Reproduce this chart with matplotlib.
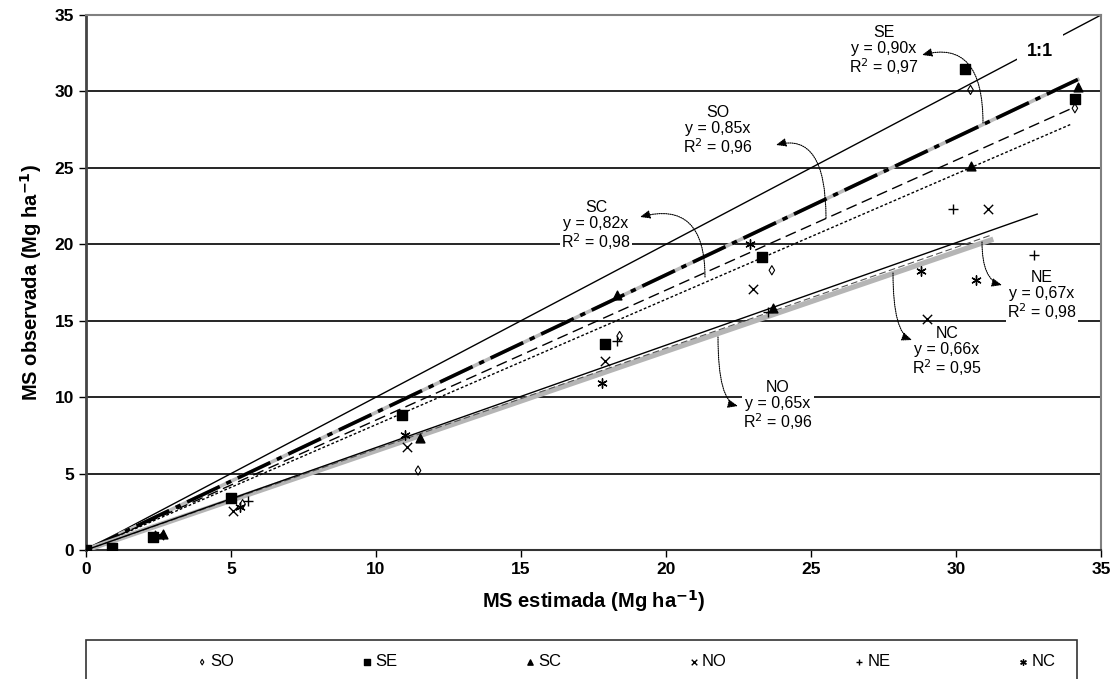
import numpy as np
import matplotlib
matplotlib.use("Agg")
import matplotlib.pyplot as plt
from matplotlib.patches import Rectangle

plt.rcParams['font.family'] = ['Liberation Sans', 'DejaVu Sans']

# ---- data ----
SO_x = [0, 5.4, 11.45, 18.4, 23.65, 30.5, 34.1]
SO_y = [0, 3.0, 5.2, 14.0, 18.3, 30.1, 28.9]
SE_x = [0, 0.9, 2.3, 5.0, 10.9, 17.9, 23.3, 30.3, 34.1]
SE_y = [0, 0.15, 0.85, 3.4, 8.8, 13.5, 19.2, 31.5, 29.5]
SC_x = [0, 0.9, 2.65, 11.5, 18.3, 23.7, 30.5, 34.2]
SC_y = [0, 0.1, 1.05, 7.3, 16.7, 15.8, 25.1, 30.3]
NO_x = [0, 2.5, 5.07, 11.07, 17.9, 23.0, 29.0, 31.1]
NO_y = [0, 1.0, 2.55, 6.75, 12.35, 17.1, 15.1, 22.3]
NE_x = [0, 5.6, 18.3, 23.5, 29.9, 32.7]
NE_y = [0, 3.2, 13.7, 15.6, 22.3, 19.3]
NC_x = [0, 5.3, 11.0, 17.8, 22.9, 28.8, 30.7]
NC_y = [0, 2.8, 7.5, 10.9, 20.0, 18.25, 17.65]

slopes = {'SO': 0.85, 'SE': 0.90, 'SC': 0.82, 'NO': 0.65, 'NE': 0.67, 'NC': 0.66}
r2 = {'SO': '0,96', 'SE': '0,97', 'SC': '0,98', 'NO': '0,96', 'NE': '0,98', 'NC': '0,95'}
line_xmax = {'SO': 34.0, 'SE': 34.2, 'SC': 34.0, 'NO': 31.2, 'NE': 32.8, 'NC': 31.2}

W, H = 1120, 679
fig = plt.figure(figsize=(W / 100, H / 100), dpi=100)
L, R, T, B = 86, 1101, 15, 550
ax = fig.add_axes([L / W, 1 - B / H, (R - L) / W, (B - T) / H])
ax.set_xlim(0, 35)
ax.set_ylim(0, 35)

# grid lines
for yv in range(5, 35, 5):
    ax.axhline(yv, color='black', lw=1.2, zorder=1)

# 1:1 line
xx = np.array([0, 35])
ax.plot(xx, xx, color='black', lw=1.0, zorder=2)

def seg(name):
    return np.array([0, line_xmax[name]])

# trend lines
x = seg('SE'); ax.plot(x, slopes['SE'] * x, color='#bbbbbb', lw=2.6, zorder=3)
ax.plot(x, slopes['SE'] * x, color='black', lw=2.6, dashes=(10, 2, 1.5, 2), zorder=3)
x = seg('SO'); ax.plot(x, slopes['SO'] * x, color='black', lw=1.0, dashes=(8, 4), zorder=3)
x = seg('SC'); ax.plot(x, slopes['SC'] * x, color='black', lw=1.0, dashes=(2, 1.5), zorder=3)
x = seg('NO'); ax.plot(x, slopes['NO'] * x, color='#b5b5b5', lw=3.8, zorder=3)
x = seg('NC'); ax.plot(x, slopes['NC'] * x, color='#555555', lw=0.8, dashes=(6, 3), zorder=3)
x = seg('NE'); ax.plot(x, slopes['NE'] * x, color='black', lw=1.0, zorder=3)

# points
h_so = ax.scatter(SO_x, SO_y, marker='d', s=22, facecolors='none', edgecolors='black', linewidths=0.8, zorder=5, label='SO')
h_se = ax.scatter(SE_x, SE_y, marker='s', s=42, color='black', zorder=5, label='SE')
h_sc = ax.scatter(SC_x, SC_y, marker='^', s=40, color='black', zorder=5, label='SC')
h_no = ax.scatter(NO_x, NO_y, marker='x', s=45, color='black', linewidths=1.0, zorder=5, label='NO')
h_ne = ax.scatter(NE_x, NE_y, marker='+', s=45, color='black', linewidths=1.0, zorder=5, label='NE')
h_nc = ax.scatter(NC_x, NC_y, marker=(6, 2, 0), s=45, color='black', linewidths=1.0, zorder=5, label='NC')

# annotations
def px2d(px, py):
    return ((px - L) / (R - L) * 35, (B - py) / (B - T) * 35)

labels = {
    'SE': ((884, 51), (983, 123), (922, 55), 15),
    'SO': ((718, 131), (826, 218), (776, 145), 15),
    'SC': ((596, 226), (705, 277), (640, 217), 15),
    'NO': ((778, 406), (718, 337), (738, 406), -13),
    'NC': ((947, 352), (893, 273), (912, 340), -20),
    'NE': ((1042, 296), (982, 242), (1002, 285), -14),
}
for name, (tpos, tail, head, angB) in labels.items():
    tx, ty = px2d(*tpos)
    ax.text(tx, ty, f"{name}\ny = {slopes[name]:.2f}x\nR$^2$ = {r2[name]}".replace('.', ','),
            ha='center', va='center', fontsize=11.5, linespacing=1.05, zorder=6,
            bbox=dict(facecolor='white', edgecolor='none', pad=0.5))
    ax.annotate('', xy=px2d(*head), xytext=px2d(*tail),
                arrowprops=dict(arrowstyle='-|>,head_length=0.6,head_width=0.25', color='black',
                                lw=0.8, ls=(0, (1, 1)),
                                connectionstyle=f'angle3,angleA=90,angleB={angB}',
                                shrinkA=0, shrinkB=0), zorder=6)

tx, ty = px2d(1040, 52)
ax.text(tx, ty, '1:1', ha='center', va='center', fontsize=13, fontweight='bold', zorder=6,
        bbox=dict(facecolor='white', edgecolor='none', pad=7))

# ticks and spines
ax.set_xticks(range(0, 36, 5))
ax.set_yticks(range(0, 36, 5))
ax.tick_params(direction='out', length=5, width=1, labelsize=12.5)
for lab in ax.get_xticklabels() + ax.get_yticklabels():
    lab.set_fontweight('bold')
ax.spines['left'].set_color('#444444'); ax.spines['left'].set_linewidth(2)
ax.spines['bottom'].set_color('#333333'); ax.spines['bottom'].set_linewidth(1.5)
ax.spines['top'].set_color('#808080'); ax.spines['top'].set_linewidth(1.5)
ax.spines['right'].set_color('#808080'); ax.spines['right'].set_linewidth(1.5)

ax.set_xlabel('MS estimada (Mg ha$^{\\mathbf{-1}}$)', fontsize=14.5, fontweight='bold', labelpad=8)
ax.set_ylabel('MS observada (Mg ha$^{\\mathbf{-1}}$)', fontsize=14.5, fontweight='bold', labelpad=8)

# legend
fig.patches.append(Rectangle((86 / W, -0.05), (1077 - 86) / W, 0.05 + 1 - 640 / H,
                             transform=fig.transFigure, facecolor='white', edgecolor='#333333', lw=1.2))
leg = fig.legend(handles=[h_so, h_se, h_sc, h_no, h_ne, h_nc], labels=['SO', 'SE', 'SC', 'NO', 'NE', 'NC'],
                 ncol=6, loc='center', bbox_to_anchor=(626 / W, 1 - 662 / H), frameon=False,
                 fontsize=12, handlelength=0.7, handletextpad=0.15, columnspacing=7.6,
                 markerscale=0.6, scatterpoints=1)

fig.savefig('out.png', dpi=100)
